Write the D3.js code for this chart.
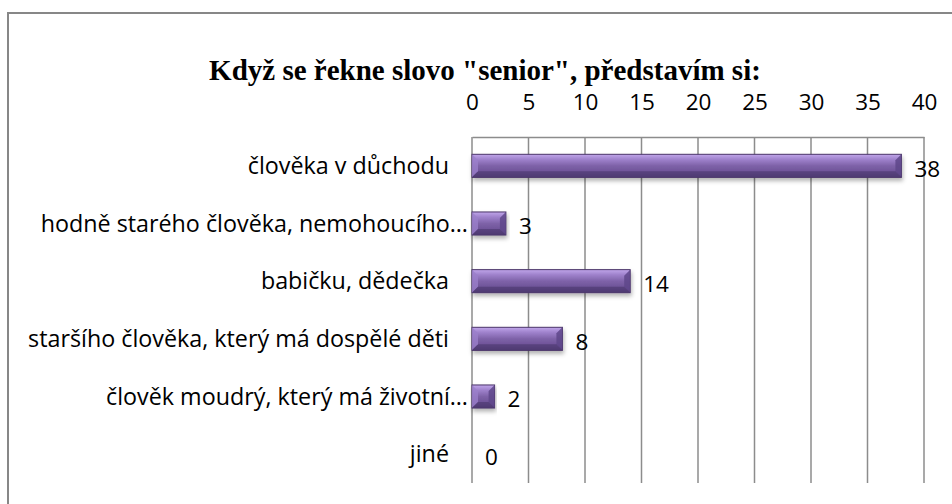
<!DOCTYPE html>
<html>
<head>
<meta charset="utf-8">
<script src="https://cdn.jsdelivr.net/npm/d3@7"></script>
<style>
  body { margin: 0; background: #fff; }
  svg { display: block; }
  .tick-label { font-family: "Open Sans", sans-serif; font-size: 22.5px; fill: #000; }
  .cat-label { font-size: 23.3px; }
</style>
</head>
<body>
<div id="chart"></div>
<script>
const categories = [
  'člověka v důchodu',
  'hodně starého člověka, nemohoucího…',
  'babičku, dědečka',
  'staršího člověka, který má dospělé děti',
  'člověk moudrý, který má životní…',
  'jiné'
];
const values = [38, 3, 14, 8, 2, 0];
const ticks = [0, 5, 10, 15, 20, 25, 30, 35, 40];
const title = 'Když se řekne slovo "senior", představím si:';

const width = 952, height = 504;
const margin = { left: 472, right: 28, top: 137, bottom: 21 };

const svg = d3.select('#chart').append('svg')
  .attr('width', width)
  .attr('height', height);

// gradients for bevelled bars
const defs = svg.append('defs');
const grad = defs.append('linearGradient')
  .attr('id', 'barGrad')
  .attr('x1', 0).attr('y1', 0).attr('x2', 0).attr('y2', 1);
grad.append('stop').attr('offset', '0%').attr('stop-color', '#c0a6ea');
grad.append('stop').attr('offset', '22%').attr('stop-color', '#9f82cc');
grad.append('stop').attr('offset', '50%').attr('stop-color', '#7e62a8');
grad.append('stop').attr('offset', '80%').attr('stop-color', '#6c5196');
grad.append('stop').attr('offset', '100%').attr('stop-color', '#4f3a70');

const shadow = defs.append('filter').attr('id', 'shadow')
  .attr('x', '-5%').attr('y', '-20%').attr('width', '115%').attr('height', '160%');
shadow.append('feDropShadow')
  .attr('dx', 1).attr('dy', 3).attr('stdDeviation', 2)
  .attr('flood-color', '#000').attr('flood-opacity', 0.3);

// outer frame
svg.append('path')
  .attr('d', 'M8,' + height + ' V13 H' + width)
  .attr('fill', 'none')
  .attr('stroke', '#878787')
  .attr('stroke-width', 2);

const x = d3.scaleLinear()
  .domain([0, 40])
  .range([margin.left, width - margin.right]);

const y = d3.scaleBand()
  .domain(categories)
  .range([margin.top, height - margin.bottom])
  .paddingInner(0.6)
  .paddingOuter(0.3);

// title
svg.append('text')
  .attr('x', 485)
  .attr('y', 80)
  .attr('text-anchor', 'middle')
  .style('font-family', '"Liberation Serif", serif')
  .style('font-weight', 'bold')
  .style('font-size', '29px')
  .text(title);

// gridlines
svg.append('g')
  .selectAll('line')
  .data(ticks)
  .enter()
  .append('line')
    .attr('x1', function(d) { return x(d); })
    .attr('x2', function(d) { return x(d); })
    .attr('y1', margin.top)
    .attr('y2', height - margin.bottom)
    .attr('stroke', '#8c8c8c')
    .attr('stroke-width', 1.5);

// top axis
const xAxis = d3.axisTop(x)
  .tickValues(ticks)
  .tickSize(0)
  .tickPadding(0);

const gx = svg.append('g')
  .attr('transform', 'translate(0,' + margin.top + ')')
  .call(xAxis);
gx.select('.domain')
  .attr('stroke', '#8c8c8c')
  .attr('stroke-width', 1.5);
gx.selectAll('text')
  .attr('class', 'tick-label')
  .attr('y', -27)
  .attr('dy', 0)
  .style('font-family', '"Open Sans", sans-serif')
  .style('font-size', '22.5px')
  .attr('fill', '#000');

// category labels (truncated ones sit closer to the axis)
svg.append('g')
  .selectAll('text')
  .data(categories)
  .enter()
  .append('text')
    .attr('class', 'tick-label cat-label')
    .attr('x', function(d) { return d.endsWith('…') ? margin.left - 4 : margin.left - 23; })
    .attr('y', function(d) { return y(d) + y.bandwidth() / 2; })
    .attr('dy', '0.35em')
    .attr('text-anchor', 'end')
    .text(function(d) { return d; });

// bars
const bars = svg.append('g')
  .selectAll('g')
  .data(values)
  .enter()
  .append('g')
    .attr('class', 'bar')
    .style('display', function(d) { return d > 0 ? 'block' : 'none'; });

bars.append('rect')
  .attr('x', x(0))
  .attr('y', function(d, i) { return y(categories[i]); })
  .attr('width', function(d) { return x(d) - x(0); })
  .attr('height', y.bandwidth())
  .attr('fill', 'url(#barGrad)')
  .attr('stroke', '#4a3568')
  .attr('stroke-width', 1)
  .attr('filter', 'url(#shadow)');

// bevel: light left chamfer, dark right and bottom strips
bars.append('path')
  .attr('d', function(d, i) {
    const x0 = x(0), x1 = x(d), y0 = y(categories[i]), h = y.bandwidth();
    const b = Math.min(6, (x1 - x0) / 2);
    return 'M' + x0 + ',' + y0 + 'L' + (x0 + b) + ',' + (y0 + b) +
      'L' + (x0 + b) + ',' + (y0 + h - b) + 'L' + x0 + ',' + (y0 + h) + 'Z';
  })
  .attr('fill', '#9b7fcb')
  .attr('opacity', 0.8);

bars.append('path')
  .attr('d', function(d, i) {
    const x0 = x(0), x1 = x(d), y0 = y(categories[i]), h = y.bandwidth();
    const b = Math.min(6, (x1 - x0) / 2);
    return 'M' + x1 + ',' + y0 + 'L' + (x1 - b) + ',' + (y0 + b) +
      'L' + (x1 - b) + ',' + (y0 + h - b) + 'L' + x1 + ',' + (y0 + h) + 'Z';
  })
  .attr('fill', '#5e4689')
  .attr('opacity', 0.85);

bars.append('path')
  .attr('d', function(d, i) {
    const x0 = x(0), x1 = x(d), y0 = y(categories[i]), h = y.bandwidth();
    const b = Math.min(6, (x1 - x0) / 2);
    return 'M' + x0 + ',' + (y0 + h) + 'L' + (x0 + b) + ',' + (y0 + h - b) +
      'L' + (x1 - b) + ',' + (y0 + h - b) + 'L' + x1 + ',' + (y0 + h) + 'Z';
  })
  .attr('fill', '#4f3a72')
  .attr('opacity', 0.7);

// value labels
svg.append('g')
  .selectAll('text')
  .data(values)
  .enter()
  .append('text')
    .attr('class', 'tick-label')
    .attr('x', function(d) { return x(d) + 13; })
    .attr('y', function(d, i) { return y(categories[i]) + y.bandwidth() / 2 + 3; })
    .attr('dy', '0.35em')
    .text(function(d) { return d; });
</script>
</body>
</html>
